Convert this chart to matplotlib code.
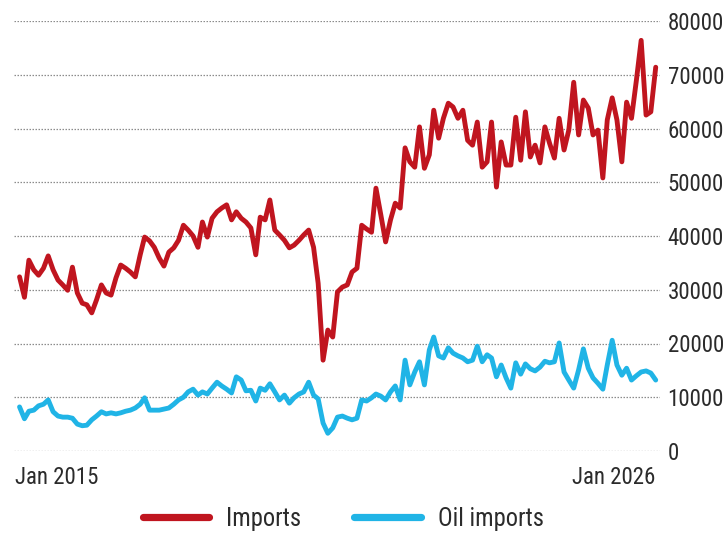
import matplotlib
matplotlib.use("Agg")
import matplotlib.pyplot as plt
import numpy as np
import pandas as pd
from matplotlib import font_manager, transforms
from matplotlib.lines import Line2D

# ---------------- data (USD million, monthly, Jan 2015 - Jan 2026) ----------------
start_month = "2015-01-01"
imports = [
    32400, 28600, 35500, 33700, 32700, 34000, 36300, 33700, 31800, 30900, 29900, 34200,
    29400, 27500, 27200, 25700, 28100, 30900, 29400, 29000, 32200, 34600, 34000, 33300,
    32400, 36500, 39800, 39100, 37900, 35900, 34400, 37000, 37800, 39200, 42000, 41100,
    40000, 37900, 42600, 39800, 43300, 44500, 45200, 45800, 43000, 44500, 43300, 42600,
    41500, 36500, 43500, 43000, 46700, 41100, 40200, 39200, 37800, 38300, 39200, 40200,
    41100, 37900, 31200, 16900, 22500, 21200, 29600, 30500, 30900, 33300, 34000, 42000,
    41300, 40700, 48900, 43900, 38900, 43000, 46100, 45200, 56400, 53800, 52800, 60300,
    52600, 55100, 63400, 58200, 61900, 64700, 64000, 61900, 63400, 57800, 56900, 61200,
    52800, 53800, 61200, 49100, 57500, 53200, 53200, 62100, 54100, 63100, 54700, 56900,
    53600, 60300, 57300, 54500, 61900, 56000, 59700, 68600, 58800, 65300, 63800, 58800,
    59700, 50800, 61600, 65700, 61600, 53800, 64900, 61900, 69000, 76400, 62500, 63100,
    71400,
]
oil_imports = [
    8200, 6000, 7400, 7600, 8400, 8700, 9500, 7300, 6500, 6300, 6300, 6100,
    5000, 4700, 4800, 5800, 6500, 7300, 6900, 7100, 6900, 7100, 7400, 7600,
    8000, 8700, 9900, 7600, 7600, 7600, 7800, 8000, 8700, 9500, 10000, 11000,
    11500, 10400, 11000, 10600, 11700, 12800, 12100, 11500, 10800, 13800, 13200, 11200,
    11300, 9300, 11700, 11300, 12500, 11000, 9500, 10400, 8900, 9900, 10600, 11000,
    12800, 10400, 9700, 5200, 3300, 4300, 6300, 6500, 6100, 5800, 6100, 9500,
    9300, 9900, 10600, 10200, 9500, 11000, 12100, 9500, 16900, 12300, 14700, 16600,
    12300, 18800, 21200, 17700, 17300, 19200, 18200, 17700, 17300, 16600, 16900, 19500,
    16600, 17900, 17300, 13800, 16000, 13600, 11700, 16400, 14300, 16200, 15300, 14900,
    15600, 16700, 16400, 16600, 20100, 14700, 13200, 11700, 15100, 19000, 15400, 13600,
    12600, 11500, 16000, 20600, 16000, 14100, 15400, 13200, 14000, 14700, 14900, 14500,
    13200,
]
series_labels = ["Imports", "Oil imports"]
x_tick_labels = ["Jan 2015", "Jan 2026"]
y_ticks = [0, 10000, 20000, 30000, 40000, 50000, 60000, 70000, 80000]

# ---------------- styling ----------------
RED = "#C0151F"
BLUE = "#20B4E6"
TXT = "#2b2b2b"

names = {f.name for f in font_manager.fontManager.ttflist}
FAM = None
for cand, size in [("Roboto Condensed", 16.5), ("Archivo Narrow", 17), ("PT Sans Narrow", 17.5),
                   ("Asap Condensed", 16.5), ("Barlow Semi Condensed", 16.5),
                   ("Liberation Sans Narrow", 17), ("Roboto", 14)]:
    if cand in names:
        FAM, FS = cand, size
        break
if FAM is None:
    FAM, FS = "DejaVu Sans", 13
LFS = FS * 1.07
plt.rcParams["font.family"] = [FAM, "DejaVu Sans"]

dates = pd.date_range(start_month, periods=len(imports), freq="MS")

W, H = 727, 533
fig = plt.figure(figsize=(W / 100, H / 100), dpi=100)
ax = fig.add_axes([14 / W, 82 / H, 646 / W, 430 / H])

ax.plot(dates, oil_imports, color=BLUE, lw=3.5, solid_joinstyle="round",
        solid_capstyle="round", zorder=3)
ax.plot(dates, imports, color=RED, lw=3.5, solid_joinstyle="round",
        solid_capstyle="round", zorder=4)

ax.set_ylim(y_ticks[0], y_ticks[-1])
ax.set_xlim(dates[0] - pd.Timedelta(days=35), dates[-1] + pd.Timedelta(days=27))

ax.set_yticks(y_ticks)
ax.set_yticklabels([str(v) for v in y_ticks])
ax.yaxis.tick_right()
ax.tick_params(axis="y", length=0, pad=5.5, labelsize=FS, labelcolor=TXT)
ax.yaxis.grid(True, linestyle=(0, (1.2, 1.2)), color="#8c8c8c", lw=0.9, zorder=0)
ax.set_axisbelow(True)

ax.set_xticks([dates[0], dates[-1]])
ax.set_xticklabels(x_tick_labels)
ax.tick_params(axis="x", length=0, pad=11, labelsize=FS, labelcolor=TXT)
xl = ax.get_xticklabels()
xl[0].set_ha("left")
xl[0].set_transform(xl[0].get_transform() + transforms.ScaledTranslation(-5 / 100, 0, fig.dpi_scale_trans))
xl[1].set_ha("right")

for s in ax.spines.values():
    s.set_visible(False)

handles = [Line2D([0], [0], color=RED, lw=5.2, solid_capstyle="round"),
           Line2D([0], [0], color=BLUE, lw=5.2, solid_capstyle="round")]
fig.legend(handles, series_labels, loc="center", bbox_to_anchor=(343 / W, 1 - 519 / H),
           ncol=2, frameon=False, handlelength=2.72, handletextpad=0.69,
           columnspacing=2.15, fontsize=LFS, labelcolor=TXT)

fig.savefig("out.png", dpi=100, facecolor="white")
